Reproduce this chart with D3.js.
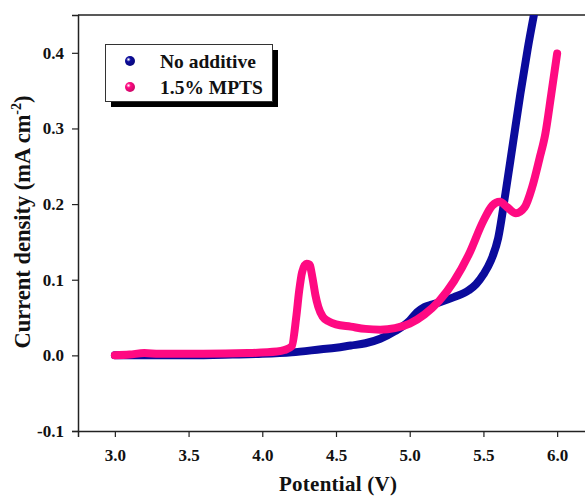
<!DOCTYPE html>
<html>
<head>
<meta charset="utf-8">
<script src="https://cdn.jsdelivr.net/npm/d3@7"></script>
<style>
  body { margin: 0; background: #fff; }
  text { font-family: "Liberation Serif", "Times New Roman", serif; font-weight: bold; }
</style>
</head>
<body>
<div class="chart"></div>
<script>
// chart size
var svgWidth = 585;
var svgHeight = 497;

// plot area (right edge runs off the picture, as in the original)
var margin = { top: 15, left: 78, bottom: 66 };
var plotRight = 594;

// data: potential (V) and current density (mA cm-2)
var noAdditiveV = [3.0, 3.2, 3.5, 3.8, 4.0, 4.2, 4.4, 4.5, 4.6, 4.7, 4.8, 4.9, 5.0, 5.05, 5.1, 5.15, 5.2, 5.3, 5.4, 5.45, 5.5, 5.55, 5.6, 5.65, 5.7, 5.75, 5.8, 5.85];
var noAdditiveI = [0.0, 0.0, 0.0, 0.001, 0.002, 0.004, 0.008, 0.010, 0.013, 0.016, 0.022, 0.032, 0.046, 0.057, 0.064, 0.067, 0.070, 0.077, 0.086, 0.094, 0.107, 0.125, 0.155, 0.215, 0.28, 0.345, 0.405, 0.458];

var mptsV = [3.0, 3.1, 3.2, 3.3, 3.6, 3.9, 4.1, 4.15, 4.2, 4.23, 4.25, 4.27, 4.3, 4.32, 4.34, 4.36, 4.38, 4.41, 4.45, 4.5, 4.6, 4.7, 4.8, 4.9, 5.0, 5.1, 5.2, 5.3, 5.4, 5.5, 5.56, 5.61, 5.66, 5.72, 5.78, 5.83, 5.88, 5.92, 5.96, 6.0];
var mptsI = [0.0, 0.001, 0.003, 0.002, 0.002, 0.003, 0.005, 0.007, 0.012, 0.05, 0.085, 0.11, 0.121, 0.12, 0.103, 0.08, 0.064, 0.051, 0.045, 0.041, 0.038, 0.035, 0.034, 0.036, 0.042, 0.054, 0.072, 0.098, 0.133, 0.178, 0.198, 0.203, 0.196, 0.188, 0.196, 0.222, 0.26, 0.293, 0.345, 0.399];

var seriesNames = ["No additive", "1.5% MPTS"];
var seriesColors = ["#0b0b9c", "#ff0a82"];

var xTicks = [3.0, 3.5, 4.0, 4.5, 5.0, 5.5, 6.0];
var yTicks = [-0.1, 0.0, 0.1, 0.2, 0.3, 0.4];

var height = svgHeight - margin.top - margin.bottom;

var svg = d3.select('.chart')
  .append('svg')
    .attr('width', svgWidth)
    .attr('height', svgHeight);

// sphere-like gradients for the legend markers
var defs = svg.append('defs');
seriesColors.forEach(function(c, i) {
  var g = defs.append('radialGradient')
    .attr('id', 'ball' + i)
    .attr('cx', '35%').attr('cy', '35%').attr('r', '65%');
  g.append('stop').attr('offset', '0%').attr('stop-color', '#fff');
  g.append('stop').attr('offset', '35%').attr('stop-color', c);
  g.append('stop').attr('offset', '100%').attr('stop-color', d3.color(c).darker(0.6));
});
defs.append('clipPath').attr('id', 'plotclip')
  .append('rect')
    .attr('x', margin.left).attr('y', margin.top)
    .attr('width', plotRight - margin.left).attr('height', height);

// scales
var x = d3.scaleLinear().domain([2.75, 6.25]).range([margin.left, plotRight]);
var y = d3.scaleLinear().domain([-0.1, 0.45]).range([margin.top + height, margin.top]);

// plain hyphen for negatives, like the original
var fmt = function(d) { return d3.format('.1f')(d).replace('\u2212', '-'); };

// axes
var xAxis = d3.axisBottom(x).tickValues(xTicks).tickFormat(fmt).tickSizeOuter(0).tickSize(6);
var xMinor = d3.axisBottom(x).tickValues(d3.range(2.75, 6.3, 0.25)).tickFormat('').tickSizeOuter(0).tickSize(3);
var yAxis = d3.axisLeft(y).tickValues(yTicks).tickFormat(fmt).tickSizeOuter(0).tickSize(6);
var yMinor = d3.axisLeft(y).tickValues(d3.range(-0.1, 0.46, 0.05)).tickFormat('').tickSizeOuter(0).tickSize(3);

var gx = svg.append('g').attr('transform', 'translate(0,' + (margin.top + height) + ')');
gx.call(xMinor);
gx.call(xAxis);
var gy = svg.append('g').attr('transform', 'translate(' + margin.left + ',0)');
gy.call(yMinor);
gy.call(yAxis);

svg.selectAll('.domain').attr('stroke', '#222').attr('stroke-width', 1.5);
svg.selectAll('.tick line').attr('stroke', '#222').attr('stroke-width', 1.2);
gx.selectAll('.tick text').attr('font-size', 17).attr('dy', '1.25em').attr('fill', '#111');
gy.selectAll('.tick text').attr('font-size', 17).attr('dx', '-0.3em').attr('fill', '#111');

// top frame line
svg.append('line')
  .attr('x1', margin.left).attr('x2', svgWidth)
  .attr('y1', margin.top).attr('y2', margin.top)
  .attr('stroke', '#222').attr('stroke-width', 1.5);

// curves
var line = d3.line()
  .x(function(d) { return x(d[0]); })
  .y(function(d) { return y(d[1]); })
  .curve(d3.curveMonotoneX);

var series = [d3.zip(noAdditiveV, noAdditiveI), d3.zip(mptsV, mptsI)];
var plot = svg.append('g').attr('clip-path', 'url(#plotclip)');
series.forEach(function(data, i) {
  plot.append('path')
    .datum(data)
    .attr('d', line)
    .attr('fill', 'none')
    .attr('stroke', seriesColors[i])
    .attr('stroke-width', 8)
    .attr('stroke-linecap', 'round')
    .attr('stroke-linejoin', 'round');
});

// legend
var legend = svg.append('g');
legend.append('rect')
  .attr('x', 111).attr('y', 50).attr('width', 167).attr('height', 57)
  .attr('fill', '#000');
legend.append('rect')
  .attr('x', 105.5).attr('y', 44.5).attr('width', 167).attr('height', 57)
  .attr('fill', '#fff').attr('stroke', '#333').attr('stroke-width', 1);
seriesNames.forEach(function(name, i) {
  var ly = 61 + i * 26;
  legend.append('circle')
    .attr('cx', 130).attr('cy', ly).attr('r', 5)
    .attr('fill', 'url(#ball' + i + ')');
  legend.append('text')
    .attr('x', 160).attr('y', ly + 7)
    .attr('font-size', 19.5)
    .attr('fill', '#111')
    .text(name);
});

// axis titles
svg.append('text')
  .attr('x', 338).attr('y', 491)
  .attr('text-anchor', 'middle')
  .attr('font-size', 21)
  .attr('textLength', 118)
  .attr('fill', '#111')
  .text('Potential (V)');

var yTitle = svg.append('text')
  .attr('transform', 'translate(30,' + 222 + ') rotate(-90)')
  .attr('text-anchor', 'middle')
  .attr('font-size', 22.5)
  .attr('fill', '#111');
yTitle.append('tspan').text('Current density (mA cm');
yTitle.append('tspan').attr('font-size', 14).attr('dy', -9).text('-2');
yTitle.append('tspan').attr('dy', 9).text(')');
</script>
</body>
</html>
